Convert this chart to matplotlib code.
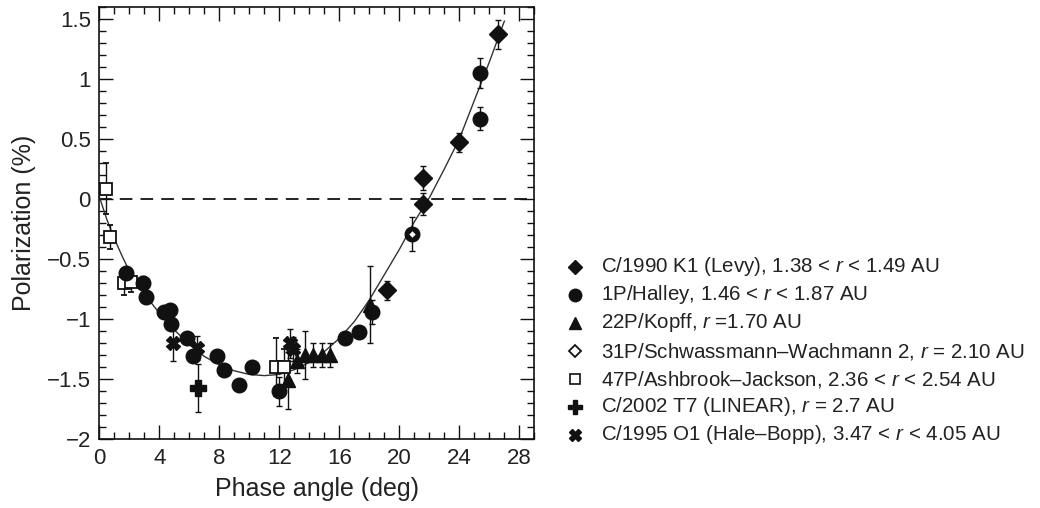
import matplotlib
matplotlib.use("Agg")
import matplotlib.pyplot as plt
from matplotlib.ticker import MultipleLocator

plt.rcParams['font.family'] = ['Liberation Sans', 'DejaVu Sans']
plt.rcParams['mathtext.fontset'] = 'custom'
plt.rcParams['mathtext.it'] = 'Liberation Sans:italic'
plt.rcParams['mathtext.rm'] = 'Liberation Sans'

# ---- data ----
levy_x = [19.2, 21.56, 21.56, 24.0, 26.6]
levy_y = [-0.76, 0.175, -0.04, 0.47, 1.37]
levy_e = [0.08, 0.10, 0.09, 0.08, 0.12]

halley_x = [1.78, 2.89, 3.11, 4.30, 4.71, 4.78, 5.87, 6.22, 7.83, 8.33, 9.31, 10.16,
            11.98, 16.38, 17.33, 18.16, 20.83, 25.38, 25.38]
halley_y = [-0.62, -0.70, -0.815, -0.94, -0.92, -1.04, -1.16, -1.31, -1.31, -1.42, -1.55, -1.40,
            -1.60, -1.16, -1.105, -0.94, -0.29, 1.047, 0.668]
halley_e = [0.05, 0.06, 0.05, 0.04, 0.04, 0.05, 0.04, 0.05, 0.03, 0.03, 0.03, 0.03,
            0.12, 0.04, 0.05, 0.10, 0.14, 0.125, 0.095]

kopff_x = [12.6, 13.15, 13.7, 14.27, 14.83, 15.38, 18.05]
kopff_y = [-1.51, -1.35, -1.30, -1.30, -1.30, -1.30, -0.88]
kopff_e = [0.24, 0.10, 0.20, 0.10, 0.10, 0.10, 0.32]

sw2_x = [20.83]
sw2_y = [-0.29]

ashbrook_x = [0.45, 0.71, 1.67, 2.11, 11.75, 12.3]
ashbrook_y = [0.086, -0.32, -0.70, -0.69, -1.40, -1.40]
ashbrook_e = [0.21, 0.10, 0.10, 0.08, 0.24, 0.15]

linear_x = [6.6]
linear_y = [-1.57]
linear_e = [0.20]

halebopp_x = [4.93, 6.53, 12.71, 12.9]
halebopp_y = [-1.20, -1.24, -1.20, -1.25]
halebopp_e = [0.15, 0.10, 0.12, 0.10]

curve_x = [0, 0.5, 1, 1.5, 2, 3, 4, 5, 6, 7, 8, 9, 10, 11, 12, 13, 14, 15,
           16, 17, 18, 19, 20, 21, 22, 23, 24, 25, 26, 27]
curve_y = [0.02, -0.17, -0.33, -0.47, -0.60, -0.79, -0.95, -1.09, -1.21, -1.31, -1.38,
           -1.43, -1.46, -1.47, -1.46, -1.42, -1.36, -1.27, -1.16, -1.02, -0.84, -0.63,
           -0.42, -0.19, 0.01, 0.25, 0.50, 0.82, 1.14, 1.48]

xticks = [0, 4, 8, 12, 16, 20, 24, 28]
yticks = [-2, -1.5, -1, -0.5, 0, 0.5, 1, 1.5]
ytick_labels = ['\u22122', '\u22121.5', '\u22121', '\u22120.5', '0', '0.5', '1', '1.5']

legend_labels = [
    r"C/1990 K1 (Levy), 1.38 < $r$ < 1.49 AU",
    r"1P/Halley, 1.46 < $r$ < 1.87 AU",
    r"22P/Kopff, $r$ =1.70 AU",
    r"31P/Schwassmann–Wachmann 2, $r$ = 2.10 AU",
    r"47P/Ashbrook–Jackson, 2.36 < $r$ < 2.54 AU",
    r"C/2002 T7 (LINEAR), $r$ = 2.7 AU",
    r"C/1995 O1 (Hale–Bopp), 3.47 < $r$ < 4.05 AU",
]

# ---- figure ----
fig = plt.figure(figsize=(10.4, 5.08), dpi=100)
ax = fig.add_axes([0.0955, 0.1352, 0.4183, 0.8516])

ink = '#111111'
ax.axhline(0, color=ink, lw=1.3, ls=(0, (7, 4.5)), zorder=1)
ax.plot(curve_x, curve_y, color='#333333', lw=1.0, zorder=2)

eb = dict(ecolor=ink, elinewidth=1.0, capsize=2.5, capthick=1.0, ls='none', zorder=3)
ax.errorbar(ashbrook_x, ashbrook_y, yerr=ashbrook_e, marker='s', ms=8.5, mfc='white',
            mec=ink, mew=1.3, **eb)
ax.errorbar(halley_x, halley_y, yerr=halley_e, marker='o', ms=10.5, mfc=ink, mec=ink, **eb)
ax.errorbar(kopff_x, kopff_y, yerr=kopff_e, marker='^', ms=10.5, mfc=ink, mec=ink, **eb)
ax.errorbar(levy_x, levy_y, yerr=levy_e, marker='D', ms=9.5, mfc=ink, mec=ink, **eb)
ax.errorbar(linear_x, linear_y, yerr=linear_e, marker='P', ms=11, mfc=ink, mec=ink, **eb)
ax.errorbar(halebopp_x, halebopp_y, yerr=halebopp_e, marker='X', ms=10, mfc=ink, mec=ink, **eb)
ax.plot(sw2_x, sw2_y, ls='none', marker='D', ms=4, mfc='white', mec=ink, mew=0.8, zorder=4)

ax.set_xlim(0, 29)
ax.set_ylim(-2, 1.6)
ax.set_xticks(xticks)
ax.set_yticks(yticks)
ax.set_yticklabels(ytick_labels)
ax.xaxis.set_minor_locator(MultipleLocator(1))
ax.yaxis.set_minor_locator(MultipleLocator(0.1))
ax.tick_params(which='both', direction='in', top=True, right=True, color=ink, width=1.0)
ax.tick_params(which='major', length=10, labelsize=16, pad=6, labelcolor='#222222')
ax.tick_params(which='minor', length=5)
for s in ax.spines.values():
    s.set_linewidth(1.2)
    s.set_color(ink)

ax.set_xlabel('Phase angle (deg)', fontsize=18, color='#222222', labelpad=6)
ax.set_ylabel('Polarization (%)', fontsize=18, color='#222222', labelpad=8)

# ---- legend (manual, figure pixel coords) ----
ov = fig.add_axes([0, 0, 1, 1])
ov.set_xlim(0, 1040)
ov.set_ylim(508, 0)
ov.set_axis_off()
leg_styles = [
    dict(marker='D', ms=7.5, mfc=ink, mec=ink),
    dict(marker='o', ms=9, mfc=ink, mec=ink),
    dict(marker='^', ms=9, mfc=ink, mec=ink),
    dict(marker='D', ms=6.5, mfc='white', mec=ink, mew=1.3),
    dict(marker='s', ms=7.5, mfc='white', mec=ink, mew=1.2),
    dict(marker='P', ms=9.5, mfc=ink, mec=ink),
    dict(marker='X', ms=9, mfc=ink, mec=ink),
]
row0, step = 267, 28.0
for i, (lab, st) in enumerate(zip(legend_labels, leg_styles)):
    yy = row0 + step * i
    ov.plot([575], [yy], ls='none', **st)
    ov.text(601, yy, lab, fontsize=14.8, va='center', ha='left', color='#222222')

fig.savefig('out.png', dpi=100)
